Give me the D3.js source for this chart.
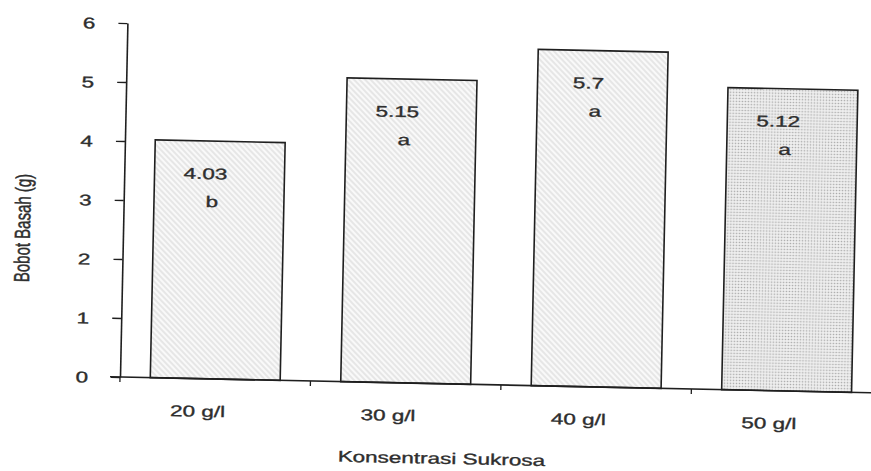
<!DOCTYPE html>
<html>
<head>
<meta charset="utf-8">
<script src="https://cdn.jsdelivr.net/npm/d3@7"></script>
<style>
  html, body { margin: 0; padding: 0; background: #ffffff; }
  svg { display: block; }
  text { font-family: "Liberation Sans", Arial, Helvetica, sans-serif; fill: #2e2e2e; stroke: #2e2e2e; stroke-width: 0.35px; }
</style>
</head>
<body>
<svg id="chart" width="871" height="471"></svg>
<script>
// ---- data ----
const categories = ["20 g/l", "30 g/l", "40 g/l", "50 g/l"];
const values = [4.03, 5.15, 5.7, 5.12];
const valueLabels = ["4.03", "5.15", "5.7", "5.12"];
const letters = ["b", "a", "a", "a"];
const yTicks = [0, 1, 2, 3, 4, 5, 6];
const xTitle = "Konsentrasi Sukrosa";
const yTitle = "Bobot Basah (g)";

// ---- layout ----
const SX = 1.45;           // horizontal stretch of the scanned lettering
const FS = 15.5;
const svg = d3.select("#chart");

const defs = svg.append("defs");
const hatch = defs.append("pattern").attr("id", "hatch")
  .attr("patternUnits", "userSpaceOnUse").attr("width", 4).attr("height", 4)
  .attr("patternTransform", "rotate(-45)");
hatch.append("rect").attr("width", 4).attr("height", 4).attr("fill", "#f9f9f9");
hatch.append("line").attr("x1", 1).attr("y1", 0).attr("x2", 1).attr("y2", 4)
  .attr("stroke", "#dadada").attr("stroke-width", 1.2);
const dots = defs.append("pattern").attr("id", "dots")
  .attr("patternUnits", "userSpaceOnUse").attr("width", 3).attr("height", 3);
dots.append("rect").attr("width", 3).attr("height", 3).attr("fill", "#eeeeee");
dots.append("circle").attr("cx", 1.5).attr("cy", 1.5).attr("r", 0.8).attr("fill", "#a9a9a9");

const g = svg.append("g").attr("transform", "rotate(1.2,120,377)");

const y = d3.scaleLinear().domain([0, 6]).range([377, 23]);
const xOuter = d3.scaleBand().domain(categories).range([120, 882]);
const x = d3.scaleBand().domain(categories).range([120, 882])
  .paddingInner(0.318).paddingOuter(0.159);

function stretchedText(parent, cx, cy, str, size, anchor) {
  return parent.append("text")
    .attr("transform", `translate(${cx},${cy}) scale(${SX},1)`)
    .attr("text-anchor", anchor || "middle")
    .style("font-size", (size || FS) + "px")
    .text(str);
}

// bars
g.selectAll("rect.bar").data(values).join("rect")
  .attr("class", "bar")
  .attr("x", (d, i) => x(categories[i]))
  .attr("y", d => y(d))
  .attr("width", x.bandwidth())
  .attr("height", d => y(0) - y(d))
  .attr("fill", (d, i) => i === 3 ? "url(#dots)" : "url(#hatch)")
  .attr("stroke", "#1f1f1f").attr("stroke-width", 1.6);

// value + letter labels inside bars
values.forEach((v, i) => {
  const cx = x(categories[i]) + x.bandwidth() / 2;
  stretchedText(g, cx - 14, y(v) + 38, valueLabels[i]);
  stretchedText(g, cx - 7, y(v) + 66, letters[i]);
});

// y axis
const yAxis = g.append("g").attr("transform", "translate(120,0)")
  .call(d3.axisLeft(y).tickValues(yTicks).tickFormat(d3.format("d")).tickSize(9).tickSizeOuter(0));
yAxis.select(".domain").attr("stroke", "#1f1f1f").attr("stroke-width", 1.6);
yAxis.selectAll(".tick line").attr("stroke", "#1f1f1f").attr("stroke-width", 1.4);
yAxis.selectAll(".tick text")
  .attr("x", -32 / SX).attr("dy", "0.36em")
  .attr("transform", `scale(${SX},1)`)
  .style("font-size", FS + "px").style("font-family", null).attr("fill", "#2e2e2e");

// x axis (baseline + boundary ticks)
g.append("line").attr("x1", 110).attr("x2", 900).attr("y1", y(0)).attr("y2", y(0))
  .attr("stroke", "#1f1f1f").attr("stroke-width", 1.6);
g.selectAll("line.xtick").data(categories).join("line")
  .attr("class", "xtick")
  .attr("x1", d => xOuter(d)).attr("x2", d => xOuter(d))
  .attr("y1", y(0)).attr("y2", y(0) + 5)
  .attr("stroke", "#1f1f1f").attr("stroke-width", 1.3);
categories.forEach(c => {
  stretchedText(g, xOuter(c) + xOuter.bandwidth() / 2 - 17, 415, c);
});

// titles
stretchedText(g, 443, 457, xTitle);
g.append("text")
  .attr("transform", `translate(27,230) rotate(-90) scale(1,${SX})`)
  .attr("text-anchor", "middle")
  .style("font-size", "15px")
  .text(yTitle);
</script>
</body>
</html>
